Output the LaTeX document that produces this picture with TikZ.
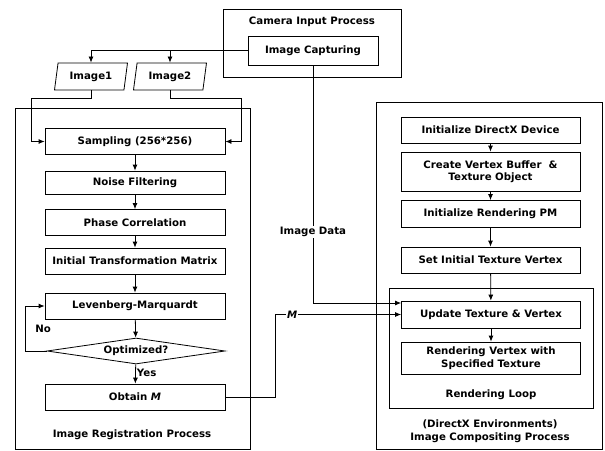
\documentclass[tikz,border=0pt]{standalone}
\usepackage{fontspec}
\setmainfont{DejaVu Sans}
\usepackage{tikz}
\usetikzlibrary{shapes, arrows, arrows.meta, positioning, calc}

\begin{document}
\begin{tikzpicture}[x=1pt, y=-1pt, line width=0.8pt, >={Latex[length=6pt,width=5pt]},
    every node/.style={font=\bfseries\fontsize{10.2}{12.5}\selectfont},
    proc/.style={draw, rectangle, minimum width=180, minimum height=26, inner sep=1pt, align=center},
    data/.style={draw, trapezium, trapezium left angle=73, trapezium right angle=107,
      trapezium stretches body, minimum width=73, minimum height=27, inner sep=1pt},
    decide/.style={draw, diamond, aspect=6.8, minimum width=178, minimum height=26, inner sep=0pt},
    tag/.style={fill=white, inner sep=1pt}]
  \useasboundingbox (0,0) rectangle (605,450);

  % process frames
  \draw (223,9) rectangle (401,77);
  \draw (15,108) rectangle (250,449);
  \draw (376,102) rectangle (602,449);
  \draw (389,288) rectangle (593,408);

  % camera input
  \node (camtitle) at (312,22) {Camera Input Process};
  \node[proc, minimum width=130, minimum height=29] (cap) at (313,50.5) {Image Capturing};
  \node[data] (img1) at (91,76.5) {Image1};
  \node[data] (img2) at (170,76.5) {Image2};

  % image registration
  \node[proc] (samp) at (135,141.5) {Sampling (256*256)};
  \node[proc, minimum height=23] (noise) at (135,182.5) {Noise Filtering};
  \node[proc] (phase) at (135,222.5) {Phase Correlation};
  \node[proc] (trans) at (135,261) {Initial Transformation Matrix};
  \node[proc] (lm) at (135,306) {Levenberg-Marquardt};
  \node[decide] (opt) at (136,351) {Optimized?};
  \node[proc] (obtm) at (135,397) {Obtain \textit{M}};
  \node (regtitle) at (132,435) {Image Registration Process};

  % image compositing
  \node[proc, minimum width=179] (initdx) at (490.5,130) {Initialize DirectX Device};
  \node[proc, minimum width=179, minimum height=39] (vbuf) at (490.5,171.5) {Create Vertex Buffer \ \&\\Texture Object};
  \node[proc, minimum width=179, minimum height=27] (initpm) at (490.5,214) {Initialize Rendering PM};
  \node[proc, minimum width=179] (setv) at (490.5,260) {Set Initial Texture Vertex};
  \node[proc, minimum width=179, minimum height=27] (upd) at (491,314.5) {Update Texture \& Vertex};
  \node[proc, minimum width=179, minimum height=32] (rendv) at (491,358) {Rendering Vertex with\\Specified Texture};
  \node (looptitle) at (491,395) {Rendering Loop};
  \node[align=center] (comptitle) at (490,431) {(DirectX Environments)\\Image Compositing Process};

  % camera to images
  \draw[->] (cap.west) -| (img1.north);
  \draw[->] (img2.north |- cap.west) -- (img2.north);
  \draw[->] (img1.south) -- ++(0,8) -| ($(samp.west)+(-13,0)$) -- (samp.west);
  \draw[->] (img2.south) -- ++(0,8) -| ($(samp.east)+(16,0)$) -- (samp.east);

  % registration flow
  \draw[->] (samp) -- (noise);
  \draw[->] (noise) -- (phase);
  \draw[->] (phase) -- (trans);
  \draw[->] (trans) -- (lm);
  \draw[->] (lm) -- (opt);
  \draw[->] (opt) -- node[pos=0.45, right, inner sep=1pt] {Yes} (obtm);
  \draw[->] (opt.west) -- ++(-21,0) |- node[pos=0.25, right=6pt] {No} (lm.west);

  % compositing flow
  \draw[->] (initdx) -- (vbuf);
  \draw[->] (vbuf) -- (initpm);
  \draw[->] (initpm) -- (setv);
  \draw[->] (setv) -- (upd);
  \draw[->] (upd) -- (rendv);

  % data into the loop
  \coordinate (datain) at ($(upd.west)+(0,-11.5)$);
  \draw[->] (cap.south) -- node[tag, pos=0.7] {Image Data} (cap.south |- datain) -- (datain);
  \draw[->] (obtm.east) -- ++(50,0) |- node[tag, pos=0.567] {\textit{M}} (upd.west);
\end{tikzpicture}
\end{document}
